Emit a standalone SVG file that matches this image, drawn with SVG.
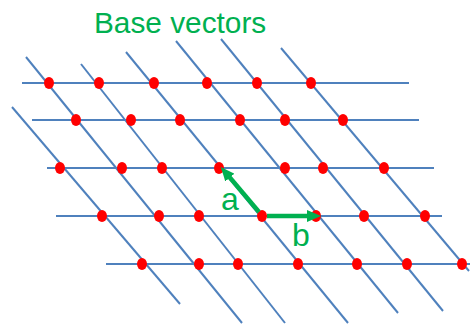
<svg xmlns="http://www.w3.org/2000/svg" width="470" height="325" viewBox="0 0 470 325">
  <style>
    .ln { stroke: #4F81BD; stroke-width: 2; fill: none; }
    .pt { fill: #FF0000; }
    .vec { stroke: #00B050; stroke-width: 4.5; fill: none; marker-end: url(#ah); }
    .lbl { fill: #00B050; font-family: "Liberation Sans", Arial, sans-serif; }
  </style>
  <defs>
    <marker id="ah" markerUnits="userSpaceOnUse" markerWidth="14" markerHeight="12" viewBox="0 0 14 12" refX="6" refY="6" orient="auto">
      <path d="M0,0 L14,6 L0,12 z" fill="#00B050"/>
    </marker>
  </defs>
  <rect width="470" height="325" fill="#FFFFFF"/>
  <text id="title" class="lbl" x="94" y="33" font-size="29.8">Base vectors</text>
  <g id="connectors">
    <g id="rows">
      <line class="ln" x1="22" y1="83" x2="409" y2="83"/>
      <line class="ln" x1="32" y1="120" x2="419" y2="120"/>
      <line class="ln" x1="47" y1="168" x2="434" y2="168"/>
      <line class="ln" x1="56" y1="216" x2="442" y2="216"/>
      <line class="ln" x1="106" y1="264" x2="470" y2="264"/>
    </g>
    <g id="diagonals">
      <line class="ln" x1="12" y1="107" x2="180" y2="304"/>
      <line class="ln" x1="26" y1="57" x2="242" y2="323"/>
      <line class="ln" x1="81" y1="64" x2="285" y2="323"/>
      <line class="ln" x1="126" y1="52" x2="348" y2="323"/>
      <line class="ln" x1="176" y1="41" x2="398" y2="313"/>
      <line class="ln" x1="221" y1="39" x2="443" y2="311"/>
      <line class="ln" x1="281" y1="48" x2="469" y2="271"/>
    </g>
  </g>
  <g id="points">
    <g id="row1">
      <ellipse class="pt" cx="49" cy="83" rx="5" ry="6"/>
      <ellipse class="pt" cx="99" cy="83" rx="5" ry="6"/>
      <ellipse class="pt" cx="154" cy="83" rx="5" ry="6"/>
      <ellipse class="pt" cx="207" cy="83" rx="5" ry="6"/>
      <ellipse class="pt" cx="257" cy="83" rx="5" ry="6"/>
      <ellipse class="pt" cx="311" cy="83" rx="5" ry="6"/>
    </g>
    <g id="row2">
      <ellipse class="pt" cx="76" cy="120" rx="5" ry="6"/>
      <ellipse class="pt" cx="131" cy="120" rx="5" ry="6"/>
      <ellipse class="pt" cx="180" cy="120" rx="5" ry="6"/>
      <ellipse class="pt" cx="240" cy="120" rx="5" ry="6"/>
      <ellipse class="pt" cx="285" cy="120" rx="5" ry="6"/>
      <ellipse class="pt" cx="343" cy="120" rx="5" ry="6"/>
    </g>
    <g id="row3">
      <ellipse class="pt" cx="60" cy="168" rx="5" ry="6"/>
      <ellipse class="pt" cx="122" cy="168" rx="5" ry="6"/>
      <ellipse class="pt" cx="162" cy="168" rx="5" ry="6"/>
      <ellipse class="pt" cx="219" cy="168" rx="5" ry="6"/>
      <ellipse class="pt" cx="285" cy="168" rx="5" ry="6"/>
      <ellipse class="pt" cx="323" cy="168" rx="5" ry="6"/>
      <ellipse class="pt" cx="384" cy="168" rx="5" ry="6"/>
    </g>
    <g id="row4">
      <ellipse class="pt" cx="102" cy="216" rx="5" ry="6"/>
      <ellipse class="pt" cx="159" cy="216" rx="5" ry="6"/>
      <ellipse class="pt" cx="199" cy="216" rx="5" ry="6"/>
      <ellipse class="pt" cx="262" cy="216" rx="5" ry="6"/>
      <ellipse class="pt" cx="316" cy="216" rx="5" ry="6"/>
      <ellipse class="pt" cx="364" cy="216" rx="5" ry="6"/>
      <ellipse class="pt" cx="425" cy="216" rx="5" ry="6"/>
    </g>
    <g id="row5">
      <ellipse class="pt" cx="142" cy="264" rx="5" ry="6"/>
      <ellipse class="pt" cx="199" cy="264" rx="5" ry="6"/>
      <ellipse class="pt" cx="238" cy="264" rx="5" ry="6"/>
      <ellipse class="pt" cx="298" cy="264" rx="5" ry="6"/>
      <ellipse class="pt" cx="357" cy="264" rx="5" ry="6"/>
      <ellipse class="pt" cx="407" cy="264" rx="5" ry="6"/>
      <ellipse class="pt" cx="462" cy="264" rx="5" ry="6"/>
    </g>
  </g>
  <g id="vector-a">
    <line class="vec" x1="259" y1="212" x2="226" y2="173"/>
    <text class="lbl" x="221" y="210" font-size="32">a</text>
  </g>
  <g id="vector-b">
    <line class="vec" x1="267" y1="216" x2="313" y2="216"/>
    <text class="lbl" x="292" y="246" font-size="32">b</text>
  </g>
</svg>
